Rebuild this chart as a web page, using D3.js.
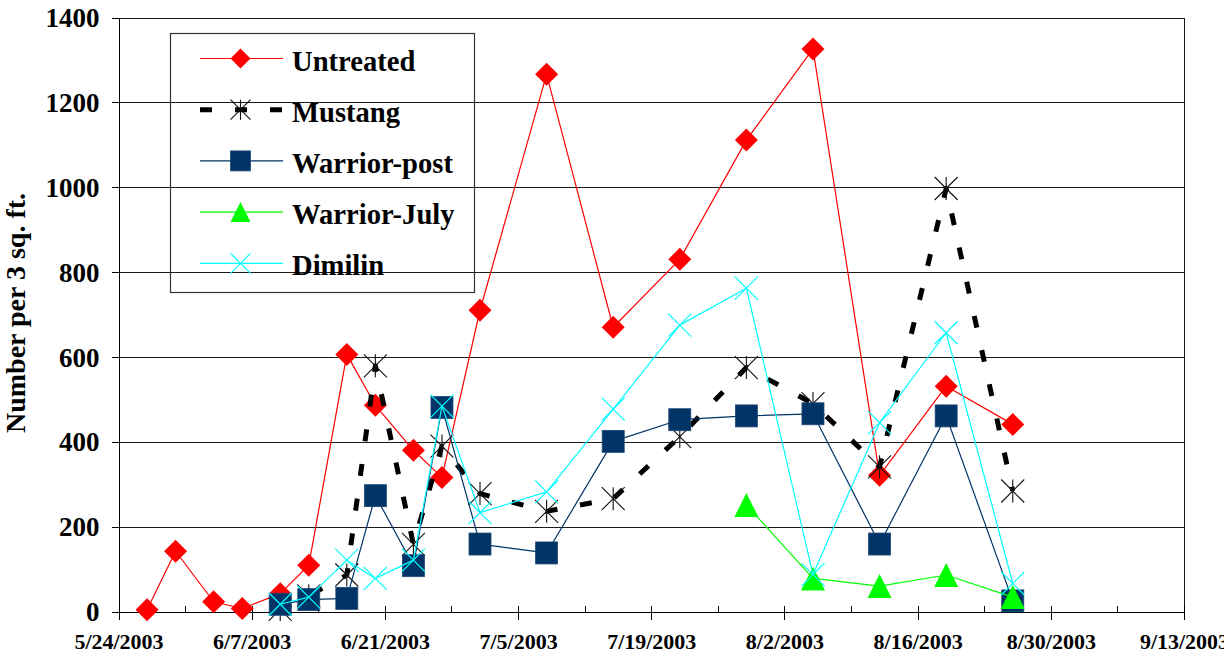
<!DOCTYPE html>
<html>
<head>
<meta charset="utf-8">
<script src="https://cdn.jsdelivr.net/npm/d3@7/dist/d3.min.js"></script>
<style>
  html, body { margin: 0; padding: 0; background: #fff; }
  svg { display: block; }
  text { font-family: "Liberation Serif", "Times New Roman", serif; font-weight: bold; fill: #000; }
</style>
</head>
<body>
<svg id="chart" width="1224" height="668"></svg>
<script>
// ---- data ----
const dates = ["5/27/2003","5/30/2003","6/3/2003","6/6/2003","6/10/2003","6/13/2003","6/17/2003","6/20/2003",
  "6/24/2003","6/27/2003","7/1/2003","7/8/2003","7/15/2003","7/22/2003","7/29/2003","8/5/2003",
  "8/12/2003","8/19/2003","8/26/2003"];
const untreated   = [4, 142, 23, 7, 42, 109, 606, 486, 380, 316, 710, 1266, 670, 830, 1111, 1326, 321, 531, 441];
const mustang     = [null, null, null, null, 5, 37, 86, 579, 158, 390, 278, 236, 266, 412, 575, 490, 341, 997, 284];
const warriorPost = [null, null, null, null, 17, 28, 31, 273, 108, 481, 159, 138, 401, 452, 461, 466, 159, 461, 25];
const warriorJuly = [null, null, null, null, null, null, null, null, null, null, null, null, null, null, 251, 78, 60, 86, 34];
const dimilin     = [null, null, null, null, 17, 34, 121, 78, 121, 484, 233, 282, 477, 675, 762, 87, 445, 657, 66];
const seriesNames = ["Untreated", "Mustang", "Warrior-post", "Warrior-July", "Dimilin"];
const xTickLabels = ["5/24/2003","6/7/2003","6/21/2003","7/5/2003","7/19/2003","8/2/2003","8/16/2003","8/30/2003","9/13/2003"];
const xMinorLabels = ["5/31/2003","6/14/2003","6/28/2003","7/12/2003","7/26/2003","8/9/2003","8/23/2003","9/6/2003"];
const yTicks = [0, 200, 400, 600, 800, 1000, 1200, 1400];
const yTitle = "Number per 3 sq. ft.";

// ---- setup ----
const parse = d3.timeParse("%m/%d/%Y");
const fmt = d => (d.getMonth() + 1) + "/" + d.getDate() + "/" + d.getFullYear();
const svg = d3.select("#chart");
const L = 118.5, R = 1184, T = 17.5, B = 611.5;

const x = d3.scaleTime().domain([parse(xTickLabels[0]), parse(xTickLabels[xTickLabels.length - 1])]).range([L, R]);
const y = d3.scaleLinear().domain([0, 1400]).range([B, T]);

// gridlines
svg.append("g").attr("transform", `translate(${L},0)`)
  .call(d3.axisLeft(y).tickValues(yTicks.filter(v => v > 0)).tickSize(-(R - L)).tickFormat(""))
  .call(g => g.select(".domain").remove())
  .call(g => g.selectAll("line").attr("stroke", "#1a1a1a").attr("stroke-width", 1).attr("shape-rendering", "crispEdges"));

// right border
svg.append("line").attr("x1", R).attr("x2", R).attr("y1", T).attr("y2", B)
  .attr("stroke", "#1a1a1a").attr("shape-rendering", "crispEdges");

// y axis
svg.append("g").attr("transform", `translate(${L},0)`)
  .call(d3.axisLeft(y).tickValues(yTicks).tickSize(7).tickPadding(12).tickFormat(d3.format("d")))
  .call(g => g.select(".domain").attr("stroke", "#000").attr("shape-rendering", "crispEdges"))
  .call(g => g.selectAll("line").attr("stroke", "#000").attr("shape-rendering", "crispEdges"))
  .call(g => g.selectAll("text").attr("font-size", 27).attr("font-family", "Liberation Serif").attr("font-weight", "bold").attr("fill", "#000").attr("dy", "0.34em"));

// x axis minor ticks (inside)
svg.append("g").attr("transform", `translate(0,${B})`)
  .call(d3.axisTop(x).tickValues(xMinorLabels.map(parse)).tickSize(6).tickFormat(""))
  .call(g => g.select(".domain").remove())
  .call(g => g.selectAll("line").attr("stroke", "#000").attr("shape-rendering", "crispEdges"));

// x axis major ticks (cross)
svg.append("g").attr("transform", `translate(0,${B})`)
  .call(d3.axisBottom(x).tickValues(xTickLabels.map(parse)).tickSize(8).tickPadding(29).tickFormat(fmt))
  .call(g => g.select(".domain").attr("stroke", "#000").attr("shape-rendering", "crispEdges"))
  .call(g => g.selectAll("line").attr("y1", -6).attr("stroke", "#000").attr("shape-rendering", "crispEdges"))
  .call(g => g.selectAll("text").attr("font-size", 22).attr("font-family", "Liberation Serif").attr("font-weight", "bold").attr("fill", "#000").attr("dy", "0"));

// y title
svg.append("text").attr("transform", "translate(25,313) rotate(-90)")
  .attr("text-anchor", "middle").attr("font-size", 28).text(yTitle);

// ---- marker shapes ----
function drawMarker(g, type, s) {
  const r = s / 2;
  if (type === "diamond") {
    g.append("path").attr("d", `M0,${-r}L${r},0L0,${r}L${-r},0Z`).attr("fill", "#ff0000");
  } else if (type === "star") {
    g.append("path").attr("d", `M${-r},${-r}L${r},${r}M${-r},${r}L${r},${-r}M0,${-r}L0,${r}`)
      .attr("stroke", "#111").attr("stroke-width", 1.1).attr("fill", "none");
  } else if (type === "square") {
    g.append("rect").attr("x", -r).attr("y", -r).attr("width", s).attr("height", s)
      .attr("fill", "#003366").attr("stroke", "#1f4a78").attr("stroke-width", 0.8);
  } else if (type === "triangle") {
    g.append("path").attr("d", `M0,${-r}L${r},${r}L${-r},${r}Z`).attr("fill", "#00ff00");
  } else if (type === "x") {
    g.append("path").attr("d", `M${-r},${-r}L${r},${r}M${-r},${r}L${r},${-r}`)
      .attr("stroke", "#00ffff").attr("stroke-width", 1.2).attr("fill", "none");
  }
}

const series = [
  { name: seriesNames[0], values: untreated,   color: "#ff0000", width: 1.2, dash: null,    marker: "diamond",  size: 23 },
  { name: seriesNames[1], values: mustang,     color: "#000000", width: 5,   dash: "12,23", marker: "star",     size: 23 },
  { name: seriesNames[2], values: warriorPost, color: "#003366", width: 1.2, dash: null,    marker: "square",   size: 22 },
  { name: seriesNames[3], values: warriorJuly, color: "#00ff00", width: 1.2, dash: null,    marker: "triangle", size: 24 },
  { name: seriesNames[4], values: dimilin,     color: "#00ffff", width: 1.2, dash: null,    marker: "x",        size: 23 }
];

const line = d3.line().defined(d => d.v !== null).x(d => x(d.date)).y(d => y(d.v));

series.forEach(s => {
  const pts = dates.map((d, i) => ({ date: parse(d), v: s.values[i] })).filter(p => p.v !== null);
  const g = svg.append("g");
  g.append("path").datum(pts).attr("d", line).attr("fill", "none")
    .attr("stroke", s.color).attr("stroke-width", s.width)
    .attr("stroke-dasharray", s.dash).attr("stroke-linejoin", "round");
  pts.forEach(p => {
    const m = g.append("g").attr("transform", `translate(${x(p.date)},${y(p.v)})`);
    drawMarker(m, s.marker, s.size);
  });
});

// ---- legend ----
const lg = svg.append("g");
lg.append("rect").attr("x", 170.5).attr("y", 33.5).attr("width", 304).attr("height", 259)
  .attr("fill", "none").attr("stroke", "#333").attr("stroke-width", 1.2);
series.forEach((s, i) => {
  const cy = 58.5 + i * 51.2;
  lg.append("line").attr("x1", 200).attr("x2", 283).attr("y1", cy).attr("y2", cy)
    .attr("stroke", s.color).attr("stroke-width", s.width).attr("stroke-dasharray", s.dash);
  const m = lg.append("g").attr("transform", `translate(240.5,${cy})`);
  drawMarker(m, s.marker, 20);
  lg.append("text").attr("x", 292).attr("y", cy + 12).attr("font-size", 28.6).text(s.name);
});
</script>
</body>
</html>
